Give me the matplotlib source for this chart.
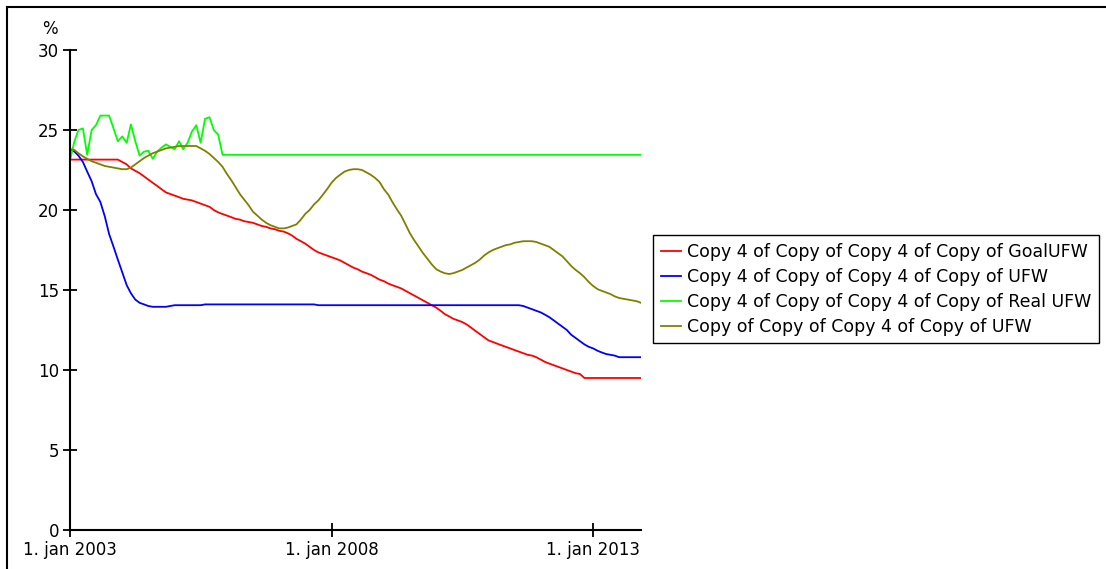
import pandas as pd
import matplotlib
matplotlib.use('Agg')
import matplotlib.pyplot as plt
from matplotlib.lines import Line2D

# data: months since jan 2003, values in %
goal_m = [0, 11, 12, 13, 14, 15, 16, 17, 18, 19, 20, 21, 22, 23, 24, 25, 26, 27, 28, 29,
          30, 31, 32, 33, 34, 35, 36, 37, 38, 39, 40, 41, 42, 43, 44, 45, 46, 47, 48, 49,
          50, 51, 52, 53, 54, 55, 56, 57, 58, 59, 60, 61, 62, 63, 64, 65, 66, 67, 68, 69,
          70, 71, 72, 73, 74, 75, 76, 77, 78, 79, 80, 81, 82, 83, 84, 85, 86, 87, 88, 89,
          90, 91, 92, 93, 94, 95, 96, 97, 98, 99, 100, 101, 102, 103, 104, 105, 106, 107,
          108, 109, 110, 111, 112, 113, 114, 115, 116, 117, 118, 131]
goal_v = [23.15, 23.15, 23.0, 22.85, 22.6, 22.45, 22.3, 22.1, 21.9, 21.7, 21.5, 21.3, 21.1, 21.0,
          20.9, 20.8, 20.7, 20.65, 20.6, 20.5, 20.4, 20.3, 20.2, 20.0, 19.85, 19.75, 19.65,
          19.55, 19.45, 19.4, 19.3, 19.25, 19.2, 19.1, 19.0, 18.95, 18.85, 18.8, 18.7, 18.65,
          18.55, 18.4, 18.2, 18.05, 17.9, 17.7, 17.5, 17.35, 17.25, 17.15, 17.05, 16.95, 16.85,
          16.7, 16.55, 16.4, 16.3, 16.15, 16.05, 15.95, 15.8, 15.65, 15.55, 15.4, 15.3, 15.2,
          15.1, 14.95, 14.8, 14.65, 14.5, 14.35, 14.2, 14.05, 13.9, 13.7, 13.5, 13.35, 13.2,
          13.1, 13.0, 12.85, 12.65, 12.45, 12.25, 12.05, 11.85, 11.75, 11.65, 11.55, 11.45,
          11.35, 11.25, 11.15, 11.05, 10.95, 10.9, 10.8, 10.65, 10.5, 10.4, 10.3, 10.2, 10.1,
          10.0, 9.9, 9.8, 9.75, 9.5, 9.5]

ufw_m = [0, 1, 2, 3, 4, 5, 6, 7, 8, 9, 10, 11, 12, 13, 14, 15, 16, 17, 18, 19, 22, 23, 24,
         30, 31, 56, 57, 103, 104, 105, 106, 107, 108, 109, 110, 111, 112, 113, 114, 115,
         116, 117, 118, 119, 120, 121, 122, 123, 124, 125, 126, 131]
ufw_v = [23.8, 23.65, 23.4, 23.0, 22.4, 21.8, 21.0, 20.5, 19.6, 18.5, 17.7, 16.9, 16.1, 15.3,
         14.8, 14.4, 14.2, 14.1, 14.0, 13.95, 13.95, 14.0, 14.05, 14.05, 14.1, 14.1, 14.05,
         14.05, 14.0, 13.9, 13.8, 13.7, 13.6, 13.45, 13.3, 13.1, 12.9, 12.7, 12.5, 12.2, 12.0,
         11.8, 11.6, 11.45, 11.35, 11.2, 11.1, 11.0, 10.95, 10.9, 10.8, 10.8]

real_m = list(range(0, 36)) + [131]
real_v = [23.1, 24.3, 25.0, 25.1, 23.45, 25.0, 25.3, 25.9, 25.9, 25.9, 25.1, 24.3, 24.6, 24.2,
          25.35, 24.3, 23.4, 23.65, 23.7, 23.2, 23.65, 23.9, 24.1, 23.95, 23.8, 24.3, 23.8,
          24.2, 24.9, 25.3, 24.2, 25.7, 25.8, 25.0, 24.7, 23.45, 23.45]

copy_m = list(range(0, 26)) + list(range(29, 132))
copy_v = [23.8, 23.75, 23.55, 23.35, 23.2, 23.05, 22.95, 22.85, 22.75, 22.7, 22.65, 22.6,
          22.55, 22.55, 22.65, 22.85, 23.05, 23.25, 23.4, 23.55, 23.65, 23.75, 23.85, 23.9,
          23.95, 24.0,
          24.0, 23.85, 23.7, 23.5, 23.25, 23.0, 22.7, 22.25, 21.85, 21.45, 21.0, 20.65, 20.3,
          19.9, 19.65, 19.4, 19.2, 19.05, 18.95, 18.85, 18.85, 18.9, 19.0, 19.1, 19.4, 19.75,
          20.0, 20.35, 20.6, 20.95, 21.3, 21.7, 22.0, 22.2, 22.4, 22.5, 22.55, 22.55, 22.5,
          22.35, 22.2, 22.0, 21.75, 21.3, 20.95, 20.5, 20.05, 19.65, 19.1, 18.55, 18.1, 17.7,
          17.3, 16.95, 16.6, 16.3, 16.15, 16.05, 16.0, 16.05, 16.15, 16.25, 16.4, 16.55, 16.7,
          16.9, 17.15, 17.35, 17.5, 17.6, 17.7, 17.8, 17.85, 17.95, 18.0, 18.05, 18.05, 18.05,
          18.0, 17.9, 17.8, 17.7, 17.5, 17.3, 17.1, 16.8, 16.5, 16.25, 16.05, 15.8, 15.5,
          15.25, 15.05, 14.95, 14.85, 14.75, 14.6, 14.5, 14.45, 14.4, 14.35, 14.3, 14.2]

labels = ['Copy 4 of Copy of Copy 4 of Copy of GoalUFW',
          'Copy 4 of Copy of Copy 4 of Copy of UFW',
          'Copy 4 of Copy of Copy 4 of Copy of Real UFW',
          'Copy of Copy of Copy 4 of Copy of UFW']
tick_years = [2003, 2008, 2013]

start = pd.Timestamp('2003-01-01')


def to_dates(months):
    return [start + pd.DateOffset(months=m) for m in months]


fig = plt.figure(figsize=(11.06, 5.69), dpi=100)
ax = fig.add_axes([70 / 1106, 1 - 530 / 569, 571 / 1106, 480 / 569])

ax.plot(to_dates(goal_m), goal_v, color='#ff0000', lw=1.3, label=labels[0])
ax.plot(to_dates(ufw_m), ufw_v, color='#0000ff', lw=1.3, label=labels[1])
ax.plot(to_dates(real_m), real_v, color='#00ff00', lw=1.3, label=labels[2])
ax.plot(to_dates(copy_m), copy_v, color='#808000', lw=1.3, label=labels[3])

ax.set_xlim(start, start + pd.DateOffset(months=131))
ax.set_ylim(0, 30)
ax.set_yticks(range(0, 31, 5))
ax.set_xticks([pd.Timestamp(f'{y}-01-01') for y in tick_years])
ax.set_xticklabels([f'1. jan {y}' for y in tick_years])

for s in ['top', 'right']:
    ax.spines[s].set_visible(False)
for s in ['left', 'bottom']:
    ax.spines[s].set_linewidth(1.5)
ax.tick_params(direction='inout', length=10, width=1.3, labelsize=12, pad=3)

fig.text(50 / 1106, 1 - 29 / 569, '%', ha='center', va='center', fontsize=12)

leg = fig.legend(loc='upper left', bbox_to_anchor=(653 / 1106, 1 - 235 / 569),
                 bbox_transform=fig.transFigure, fontsize=12.5, frameon=True, fancybox=False,
                 edgecolor='black', framealpha=1, handlelength=1.15, handletextpad=0.38,
                 labelspacing=0.4, borderpad=0.45, borderaxespad=0)
leg.get_frame().set_linewidth(1)

# outer frame (top and left edges visible)
fig.add_artist(Line2D([7 / 1106, 1], [1 - 7 / 569, 1 - 7 / 569], transform=fig.transFigure,
                      color='black', lw=1.5))
fig.add_artist(Line2D([7 / 1106, 7 / 1106], [0, 1 - 7 / 569], transform=fig.transFigure,
                      color='black', lw=1.5))

fig.savefig('out.png', dpi=100)
